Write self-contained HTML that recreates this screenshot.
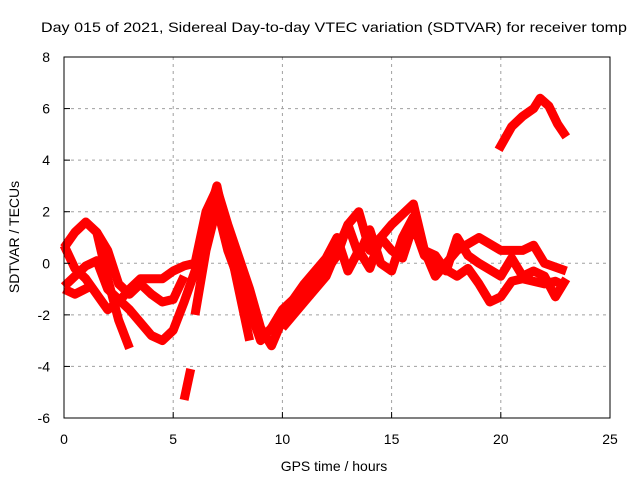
<!DOCTYPE html>
<html><head><meta charset="utf-8"><style>
body{margin:0;background:#fff;}
svg text{font-family:"Liberation Sans",sans-serif;font-size:14px;fill:#000;}
</style></head><body>
<svg id="chart" width="640" height="480" viewBox="0 0 640 480" xmlns="http://www.w3.org/2000/svg">
<rect width="640" height="480" fill="#fff"/>
<text x="334" y="32" text-anchor="middle" textLength="586" lengthAdjust="spacingAndGlyphs">Day 015 of 2021, Sidereal Day-to-day VTEC variation (SDTVAR) for receiver tomp</text>
<g id="grid"></g>
<g id="series"></g>
<rect x="64" y="57" width="546" height="361" fill="none" stroke="#000" stroke-width="1"/>
<g id="ticks"></g>
<text x="334" y="471" text-anchor="middle">GPS time / hours</text>
<text transform="translate(19,237) rotate(-90)" text-anchor="middle">SDTVAR / TECUs</text>
</svg>
<script>
const xTicks=[0,5,10,15,20,25];
const yTicks=[-6,-4,-2,0,2,4,6,8];
const trackAx=[0,0.5,1.0,1.5,2.0,2.5,3.0];
const trackAy=[0.6,1.2,1.6,1.2,-0.6,-2.2,-3.3];
const trackBx=[0,1,1.5,2,3,4,4.5,5,5.5,6,6.5,7,7.5,8,8.5];
const trackBy=[-0.9,-0.1,0.1,-1.0,-1.8,-2.8,-3.0,-2.6,-1.5,-0.3,1.5,3.0,1.0,-1.0,-3.0];
const trackCx=[0,0.5,1.2];
const trackCy=[-1.0,-1.2,-0.9];
const trackDx=[0,0.5,1,2,2.5,3,3.5,4,4.5,5,5.5,6,6.5,7,7.5,8.5,9,9.5,10,11,12];
const trackDy=[0.7,-0.2,-0.6,-1.8,-1.5,-1.0,-0.6,-0.6,-0.6,-0.3,-0.1,0,2.0,2.9,1.5,-1.0,-2.5,-3.2,-2.2,-1.0,0];
const trackEx=[1.5,2,2.5,3,3.5,4,4.5,5,5.5];
const trackEy=[1.2,0.5,-0.8,-1.2,-0.8,-1.2,-1.5,-1.4,-0.5];
const trackFx=[5.5,5.8];
const trackFy=[-5.3,-4.1];
const trackGx=[6,6.5,7,7.5,8.5,9,9.5,10,11,11.5];
const trackGy=[-2,0.5,2.2,0.5,-1.8,-3.0,-2.5,-1.8,-1.0,-1.2];
const trackHx=[10,11,12,13,13.5,14,15,16,16.5,17,18,19,20,21,21.5,22,23];
const trackHy=[-2.5,-1.5,-0.5,1.5,2.0,0.5,1.5,2.3,0.5,-0.5,0.5,1.0,0.5,0.5,0.7,0,-0.3];
const trackIx=[10,11,12,12.5,13,13.5,14,14.5,15,15.5,16,16.5,17,18,18.5,19,19.5,20,20.5,21,22,22.5,23];
const trackIy=[-2,-0.8,0.2,1.0,-0.3,0.5,-0.2,1.0,0.5,0.2,1.5,0.3,0,-0.5,-0.2,-0.8,-1.5,-1.3,-0.7,-0.6,-0.8,-0.7,-0.9];
const trackJx=[11,12,12.5,13,13.5,14,14.5,15,15.5,16,16.5,17,17.5,18,18.5,19,20,20.5,21,21.5,22,22.5,23];
const trackJy=[-1.2,-0.3,0.3,1.5,0.3,1.3,0,-0.3,1.0,1.8,0.5,0.3,-0.3,1.0,0.3,0,-0.5,0.2,-0.5,-0.3,-0.5,-1.3,-0.6];
const trackKx=[19.9,20.5,21,21.5,21.8,22.2,22.6,23];
const trackKy=[4.4,5.3,5.7,6.0,6.4,6.1,5.4,4.9];

const NS='http://www.w3.org/2000/svg';
const X0=64,X1=610,Y0=418,Y1=57;
function sx(v){return X0+(v-0)/(25-0)*(X1-X0);}
function sy(v){return Y0-(v+6)/(8+6)*(Y0-Y1);}
const grid=document.getElementById('grid'),ticks=document.getElementById('ticks'),series=document.getElementById('series');
function mk(t,a){const e=document.createElementNS(NS,t);for(const k in a)e.setAttribute(k,a[k]);return e;}
xTicks.forEach(v=>{
  const x=sx(v);
  if(v>0&&v<25){const g=mk('line',{x1:x,x2:x,y1:Y1,y2:Y0,stroke:'#a0a0a0','stroke-dasharray':'3,4'});
  
  
  grid.appendChild(g);}
  const t=mk('line',{x1:x,x2:x,y1:Y0,y2:Y0-6,stroke:'#000'});
  
  
  ticks.appendChild(t);
  const l=mk('text',{x:x,y:Y0+26,'text-anchor':'middle'});l.textContent=v;
  
  
  ticks.appendChild(l);
});
yTicks.forEach(v=>{
  const y=sy(v);
  if(v>-6&&v<8){const g=mk('line',{x1:X0,x2:X1,y1:y,y2:y,stroke:'#a0a0a0','stroke-dasharray':'3,4'});
  
  
  grid.appendChild(g);}
  const t=mk('line',{x1:X0,x2:X0+6,y1:y,y2:y,stroke:'#000'});
  
  
  ticks.appendChild(t);
  const l=mk('text',{x:X0-14,y:y+5,'text-anchor':'end'});l.textContent=v;
  
  
  ticks.appendChild(l);
});
const tracks=[[trackAx,trackAy],[trackBx,trackBy],[trackCx,trackCy],[trackDx,trackDy],[trackEx,trackEy],[trackFx,trackFy],[trackGx,trackGy],[trackHx,trackHy],[trackIx,trackIy],[trackJx,trackJy],[trackKx,trackKy]];
tracks.forEach((tr,i)=>{
  const pts=tr[0].map((x,j)=>sx(x).toFixed(1)+','+sy(tr[1][j]).toFixed(1)).join(' ');
  const p=mk('polyline',{points:pts,fill:'none',stroke:'#ff0000','stroke-width':9,'stroke-linejoin':'round','stroke-linecap':'butt'});
  
  
  series.appendChild(p);
});
</script>
</body></html>
